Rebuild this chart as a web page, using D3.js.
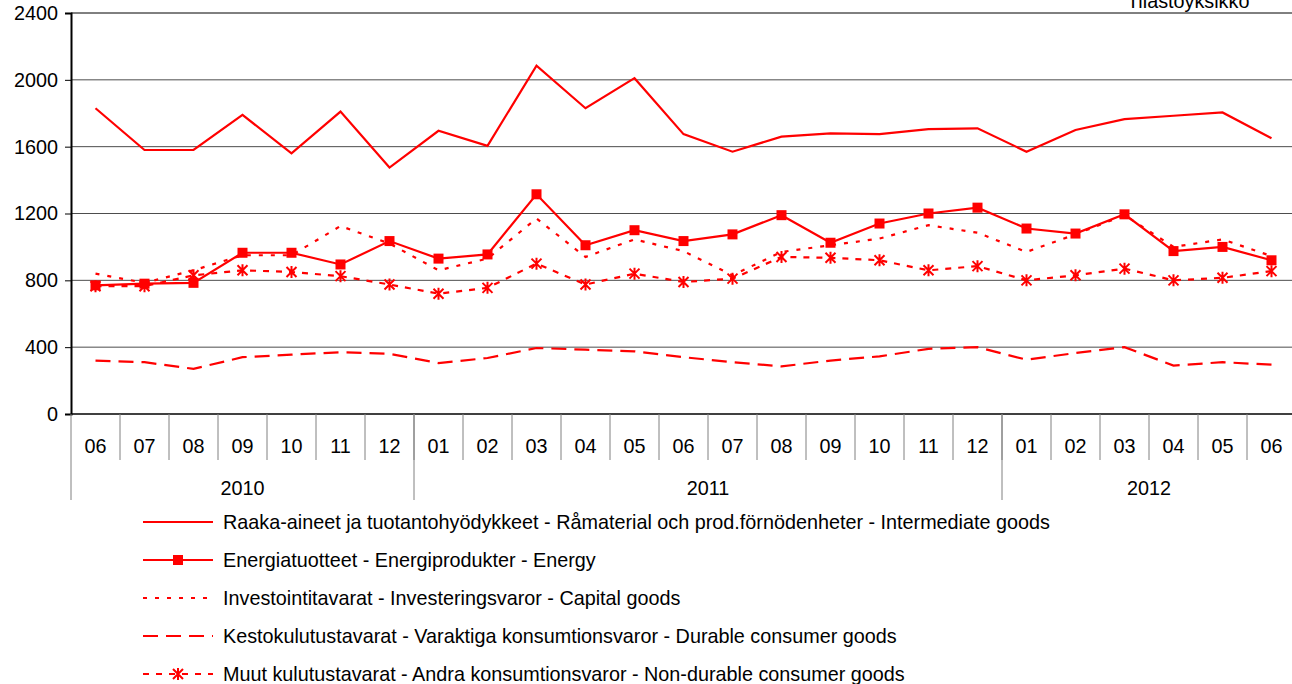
<!DOCTYPE html>
<html>
<head>
<meta charset="utf-8">
<script src="https://cdn.jsdelivr.net/npm/d3@7"></script>
<style>
  body { margin: 0; background: #fff; }
  svg { display: block; font-family: "Liberation Sans", Arial, sans-serif; }
</style>
</head>
<body>
<svg id="chart" width="1292" height="684"></svg>
<script>
var months = ["06","07","08","09","10","11","12","01","02","03","04","05","06","07","08","09","10","11","12","01","02","03","04","05","06"];
var years = [
  { label: "2010", from: 0, to: 7 },
  { label: "2011", from: 7, to: 19 },
  { label: "2012", from: 19, to: 25 }
];
var yTicks = [0, 400, 800, 1200, 1600, 2000, 2400];

var intermediate = [1830,1580,1580,1790,1560,1810,1475,1695,1605,2085,1830,2010,1675,1570,1660,1680,1675,1705,1710,1570,1700,1765,1785,1805,1650];
var energy = [770,780,785,965,965,895,1035,930,955,1315,1010,1100,1035,1075,1190,1025,1140,1200,1235,1110,1080,1195,975,1000,920];
var capital = [840,785,860,950,950,1125,1020,860,930,1170,940,1045,975,830,970,1010,1050,1130,1085,970,1075,1190,1000,1045,945];
var durable = [320,310,270,340,355,370,360,305,335,395,385,375,340,310,285,320,345,390,400,325,365,400,290,310,295];
var nondurable = [765,765,830,860,850,825,775,720,755,900,775,840,790,810,940,935,920,860,885,800,830,870,800,815,855];

var seriesNames = [
  "Raaka-aineet ja tuotantohyödykkeet - Råmaterial och prod.förnödenheter - Intermediate goods",
  "Energiatuotteet - Energiprodukter - Energy",
  "Investointitavarat - Investeringsvaror - Capital goods",
  "Kestokulutustavarat - Varaktiga konsumtionsvaror - Durable consumer goods",
  "Muut kulutustavarat - Andra konsumtionsvaror - Non-durable consumer goods"
];

var series = [
  { name: seriesNames[0], values: intermediate, dash: null, marker: null },
  { name: seriesNames[1], values: energy, dash: null, marker: "square" },
  { name: seriesNames[2], values: capital, dash: "4,8", marker: null },
  { name: seriesNames[3], values: durable, dash: "15,8", marker: null },
  { name: seriesNames[4], values: nondurable, dash: "6,7", marker: "star" }
];

var red = "#ff0000";
var fontSize = 19.8;
var plotLeft = 71, plotTop = 13, plotBottom = 414;
var bandW = 49;
var plotRight = plotLeft + months.length * bandW;

var svg = d3.select("#chart");

var x = d3.scaleBand().domain(d3.range(months.length)).range([plotLeft, plotRight]);
var y = d3.scaleLinear().domain([0, 2400]).range([plotBottom, plotTop]);

// gridlines
svg.append("g").selectAll("line")
  .data(yTicks.filter(function(d) { return d > 0 && d < 2400; }))
  .join("line")
  .attr("x1", plotLeft).attr("x2", plotRight)
  .attr("y1", function(d) { return y(d); }).attr("y2", function(d) { return y(d); })
  .attr("stroke", "#4d4d4d").attr("stroke-width", 1);

// top border
svg.append("line")
  .attr("x1", plotLeft).attr("x2", plotRight).attr("y1", y(2400)).attr("y2", y(2400))
  .attr("stroke", "#000").attr("stroke-width", 1);

// y axis
var yAxis = d3.axisLeft(y).tickValues(yTicks).tickSize(6).tickPadding(7).tickFormat(d3.format("d"));
var ya = svg.append("g").attr("transform", "translate(" + plotLeft + ",0)").call(yAxis);
ya.select(".domain").attr("stroke", "#000").attr("stroke-width", 2);
ya.selectAll("text").attr("font-size", fontSize).attr("fill", "#000").attr("font-family", "Liberation Sans, Arial, sans-serif");

// x axis line
svg.append("line")
  .attr("x1", plotLeft).attr("x2", plotRight).attr("y1", plotBottom).attr("y2", plotBottom)
  .attr("stroke", "#000").attr("stroke-width", 1.5);

// month separators
svg.append("g").selectAll("line")
  .data(d3.range(1, months.length))
  .join("line")
  .attr("x1", function(d) { return x(d); }).attr("x2", function(d) { return x(d); })
  .attr("y1", plotBottom).attr("y2", plotBottom + 46)
  .attr("stroke", "#808080").attr("stroke-width", 1);

// year separators
svg.append("g").selectAll("line")
  .data(years.map(function(d) { return d.from; }))
  .join("line")
  .attr("x1", function(d) { return x(d); }).attr("x2", function(d) { return x(d); })
  .attr("y1", plotBottom).attr("y2", plotBottom + 86)
  .attr("stroke", "#808080").attr("stroke-width", 1);

// month labels
svg.append("g").selectAll("text")
  .data(months)
  .join("text")
  .attr("x", function(d, i) { return x(i) + bandW / 2; })
  .attr("y", 453)
  .attr("text-anchor", "middle")
  .attr("font-size", fontSize)
  .text(function(d) { return d; });

// year labels
svg.append("g").selectAll("text")
  .data(years)
  .join("text")
  .attr("x", function(d) { return (x(d.from) + (d.to < months.length ? x(d.to) : plotRight)) / 2; })
  .attr("y", 495)
  .attr("text-anchor", "middle")
  .attr("font-size", fontSize)
  .text(function(d) { return d.label; });

// corner text
svg.append("text")
  .attr("x", 1127).attr("y", 8)
  .attr("font-size", fontSize)
  .text("Tilastoyksikkö");

var line = d3.line()
  .x(function(d, i) { return x(i) + bandW / 2; })
  .y(function(d) { return y(d); });

function drawMarker(g, type, cx, cy) {
  if (type === "square") {
    g.append("rect")
      .attr("x", cx - 5).attr("y", cy - 5).attr("width", 10).attr("height", 10)
      .attr("fill", red);
  } else if (type === "star") {
    var r = 5;
    g.append("path")
      .attr("d", "M" + cx + "," + (cy - r - 1) + "V" + (cy + r + 1) +
        "M" + (cx - r) + "," + (cy - r) + "L" + (cx + r) + "," + (cy + r) +
        "M" + (cx - r) + "," + (cy + r) + "L" + (cx + r) + "," + (cy - r))
      .attr("stroke", red).attr("stroke-width", 2).attr("fill", "none");
  }
}

// draw series back to front
series.slice().reverse().forEach(function(s) {
  var g = svg.append("g");
  g.append("path")
    .datum(s.values)
    .attr("d", line)
    .attr("fill", "none")
    .attr("stroke", red)
    .attr("stroke-width", 2.2)
    .attr("stroke-dasharray", s.dash);
  if (s.marker) {
    s.values.forEach(function(v, i) {
      drawMarker(g, s.marker, x(i) + bandW / 2, y(v));
    });
  }
});

// legend
var legend = svg.append("g");
series.forEach(function(s, i) {
  var ly = 522 + i * 38;
  legend.append("line")
    .attr("x1", 143).attr("x2", 213).attr("y1", ly).attr("y2", ly)
    .attr("stroke", red).attr("stroke-width", 2.2)
    .attr("stroke-dasharray", s.dash);
  if (s.marker) drawMarker(legend, s.marker, 178, ly);
  legend.append("text")
    .attr("x", 223).attr("y", ly + 7)
    .attr("font-size", fontSize)
    .text(s.name);
});
</script>
</body>
</html>
